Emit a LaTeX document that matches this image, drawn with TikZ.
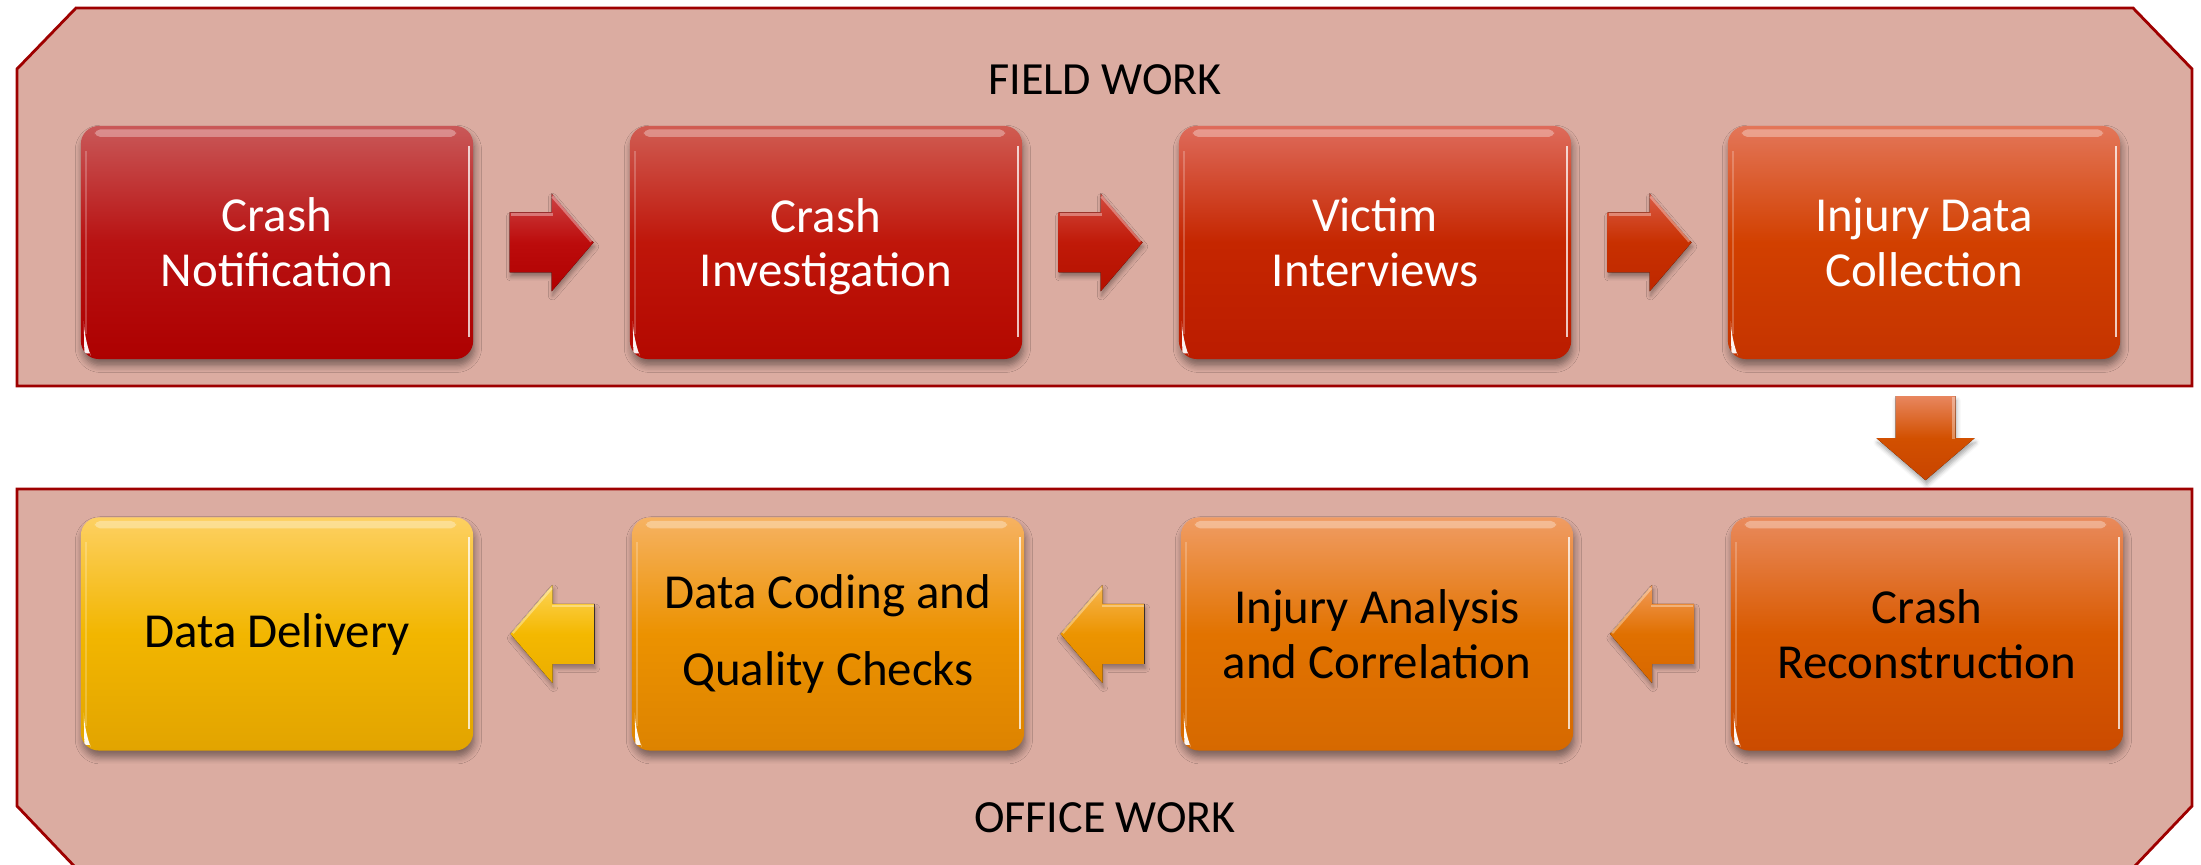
\documentclass[tikz,border=0pt]{standalone}
\usepackage{fontspec}
\setmainfont{Carlito}
\usetikzlibrary{calc,shadows.blur}

% panel colours
\definecolor{panelfill}{HTML}{DBACA1}
\definecolor{panelline}{HTML}{9E0000}
% step colours: light top, body, dark bottom
\definecolor{s1t}{HTML}{C95858}\definecolor{s1m}{HTML}{B81212}\definecolor{s1b}{HTML}{AD0000}
\definecolor{s2t}{HTML}{D05C52}\definecolor{s2m}{HTML}{BF160A}\definecolor{s2b}{HTML}{B30800}
\definecolor{s3t}{HTML}{DE6B5B}\definecolor{s3m}{HTML}{C52600}\definecolor{s3b}{HTML}{BB1C00}
\definecolor{s4t}{HTML}{E37659}\definecolor{s4m}{HTML}{D24000}\definecolor{s4b}{HTML}{C53400}
\definecolor{s5t}{HTML}{E98A5C}\definecolor{s5m}{HTML}{D95A00}\definecolor{s5b}{HTML}{CB4B00}
\definecolor{s6t}{HTML}{F09C64}\definecolor{s6m}{HTML}{E27300}\definecolor{s6b}{HTML}{D66900}
\definecolor{s7t}{HTML}{F6B262}\definecolor{s7m}{HTML}{EC9200}\definecolor{s7b}{HTML}{DD8300}
\definecolor{s8t}{HTML}{FDD062}\definecolor{s8m}{HTML}{F2B600}\definecolor{s8b}{HTML}{E2A400}
% arrow colours
\definecolor{r1t}{HTML}{CD4444}\definecolor{r1m}{HTML}{BC0C0C}\definecolor{r1b}{HTML}{B00000}
\definecolor{r2t}{HTML}{D24A3E}\definecolor{r2m}{HTML}{C01A08}\definecolor{r2b}{HTML}{B41000}
\definecolor{r3t}{HTML}{DA5A45}\definecolor{r3m}{HTML}{C83000}\definecolor{r3b}{HTML}{BE2800}
\definecolor{r4t}{HTML}{E8865E}\definecolor{r4m}{HTML}{D25000}\definecolor{r4b}{HTML}{C84400}
\definecolor{r5t}{HTML}{F29A58}\definecolor{r5m}{HTML}{E07000}\definecolor{r5b}{HTML}{D86800}
\definecolor{r6t}{HTML}{F7B650}\definecolor{r6m}{HTML}{EC9400}\definecolor{r6b}{HTML}{E38A00}
\definecolor{r7t}{HTML}{FDD458}\definecolor{r7m}{HTML}{F4B800}\definecolor{r7b}{HTML}{EBAE00}

\tikzset{
  panel/.style={fill=panelfill, draw=panelline, line width=0.8pt, line join=miter},
  title/.style={font=\fontsize{13.1pt}{15.6pt}\selectfont, text=black, inner sep=0pt},
  tone/.style={top color=#1t, bottom color=#1b, middle color=#1m},
  gloss/.style={path picture={
    % soft highlight bar along the top
    \fill[white, opacity=0.33, rounded corners=1.5pt]
      ($(path picture bounding box.north west)+(0.14cm,-0.035cm)$) rectangle
      ($(path picture bounding box.north east)+(-0.17cm,-0.11cm)$);
    % bright rim on the right side
    \draw[white, opacity=0.75, line width=0.6pt]
      ($(path picture bounding box.north east)+(-0.045cm,-0.2cm)$) --
      ($(path picture bounding box.south east)+(-0.045cm,0.22cm)$);
    % faint rim on the left side
    \draw[white, opacity=0.22, line width=0.6pt]
      ($(path picture bounding box.north west)+(0.05cm,-0.25cm)$) --
      ($(path picture bounding box.south west)+(0.05cm,0.25cm)$);
    % glint in the lower left corner
    \fill[white, opacity=0.95]
      ($(path picture bounding box.south west)+(0.03cm,0.2cm)$) .. controls
      ($(path picture bounding box.south west)+(0.035cm,0.06cm)$) ..
      ($(path picture bounding box.south west)+(0.19cm,0.025cm)$) .. controls
      ($(path picture bounding box.south west)+(0.08cm,0.08cm)$) ..
      cycle;
  }},
  stepbox/.style={rounded corners=0.18cm, minimum width=3.92cm, minimum height=2.33cm,
    align=center, inner sep=2pt, font=\fontsize{13.9pt}{15.6pt}\selectfont,
    blur shadow={shadow xshift=0.4pt, shadow yshift=-1.8pt, shadow blur radius=2pt,
      shadow opacity=45, shadow blur steps=6},
    gloss},
  lighttext/.style={text=white},
  darktext/.style={text=black},
  blockarrow/.style={blur shadow={shadow xshift=0.3pt, shadow yshift=-1.2pt,
      shadow blur radius=1.2pt, shadow opacity=35, shadow blur steps=4}},
  bevel/.style={white, opacity=0.35, line width=0.8pt},
}

% block arrows placed halfway between two named nodes
\newcommand\arrowtoright[3]{%
  \coordinate (m#1#2) at ($(#1.east)!0.5!(#2.west)$);
  \fill[blockarrow, tone=#3] ($(m#1#2)+(-42,-30)$) -- ($(m#1#2)+(0,-30)$) -- ($(m#1#2)+(0,-49)$)
    -- ($(m#1#2)+(42,0)$) -- ($(m#1#2)+(0,49)$) -- ($(m#1#2)+(0,30)$)
    -- ($(m#1#2)+(-42,30)$) -- cycle;
  \draw[bevel] ($(m#1#2)+(-41,-28)$) -- ($(m#1#2)+(1,-28)$);
  \draw[bevel] ($(m#1#2)+(1,-46)$) -- ($(m#1#2)+(40,-1)$);
}
\newcommand\arrowtoleft[3]{%
  \coordinate (m#1#2) at ($(#1.west)!0.5!(#2.east)$);
  \fill[blockarrow, tone=#3] ($(m#1#2)+(42,-30)$) -- ($(m#1#2)+(0,-30)$) -- ($(m#1#2)+(0,-49)$)
    -- ($(m#1#2)+(-42,0)$) -- ($(m#1#2)+(0,49)$) -- ($(m#1#2)+(0,30)$)
    -- ($(m#1#2)+(42,30)$) -- cycle;
  \draw[bevel] ($(m#1#2)+(41,-28)$) -- ($(m#1#2)+(-1,-28)$);
  \draw[bevel] ($(m#1#2)+(-1,-46)$) -- ($(m#1#2)+(-40,-1)$);
}
\newcommand\arrowdown[3]{%
  \coordinate (m#1#2) at ($(#1.south)!0.5!(#2.north)$);
  \fill[blockarrow, tone=#3] ($(m#1#2)+(-30,-42)$) -- ($(m#1#2)+(-30,0)$) -- ($(m#1#2)+(-49,0)$)
    -- ($(m#1#2)+(0,42)$) -- ($(m#1#2)+(49,0)$) -- ($(m#1#2)+(30,0)$)
    -- ($(m#1#2)+(30,-42)$) -- cycle;
  \draw[bevel] ($(m#1#2)+(28,-41)$) -- ($(m#1#2)+(28,1)$);
}

\begin{document}
\begin{tikzpicture}[x=0.01cm, y=-0.01cm]
  \useasboundingbox (0,0) rectangle (2201,865);

  % the two work panels
  \path[panel] (17,69) -- (76,8) -- (2133,8) -- (2192,69) -- (2192,386) -- (17,386) -- cycle;
  \path[panel] (17,489) -- (2192,489) -- (2192,806) -- (2133,868) -- (76,868) -- (17,806) -- cycle;

  \node[title] (fw) at (1105,80) {FIELD WORK};
  \node[title] (ow) at (1105,818) {OFFICE WORK};

  % field work steps
  \node[stepbox, lighttext, tone=s1] (b1) at (277,242.5) {Crash\\Notification};
  \node[stepbox, lighttext, tone=s2] (b2) at (826,242.5) {Crash\\\smash{Investigation}};
  \node[stepbox, lighttext, tone=s3] (b3) at (1375,242.5) {Victim\\Interviews};
  \node[stepbox, lighttext, tone=s4] (b4) at (1924,242.5) {Injury Data\\Collection};

  % office work steps
  \node[stepbox, darktext, tone=s5] (b5) at (1927,634) {Crash\\Reconstruction};
  \node[stepbox, darktext, tone=s6] (b6) at (1377,634) {Injury Analysis\\and Correlation};
  \node[stepbox, darktext, tone=s7, font=\fontsize{13.9pt}{22pt}\selectfont] (b7) at (828,634) {Data Coding and\\Quality Checks};
  \node[stepbox, darktext, tone=s8] (b8) at (277,634) {Data Delivery};

  % flow between the steps
  \arrowtoright{b1}{b2}{r1}
  \arrowtoright{b2}{b3}{r2}
  \arrowtoright{b3}{b4}{r3}
  \arrowdown{b4}{b5}{r4}
  \arrowtoleft{b5}{b6}{r5}
  \arrowtoleft{b6}{b7}{r6}
  \arrowtoleft{b7}{b8}{r7}
\end{tikzpicture}
\end{document}
